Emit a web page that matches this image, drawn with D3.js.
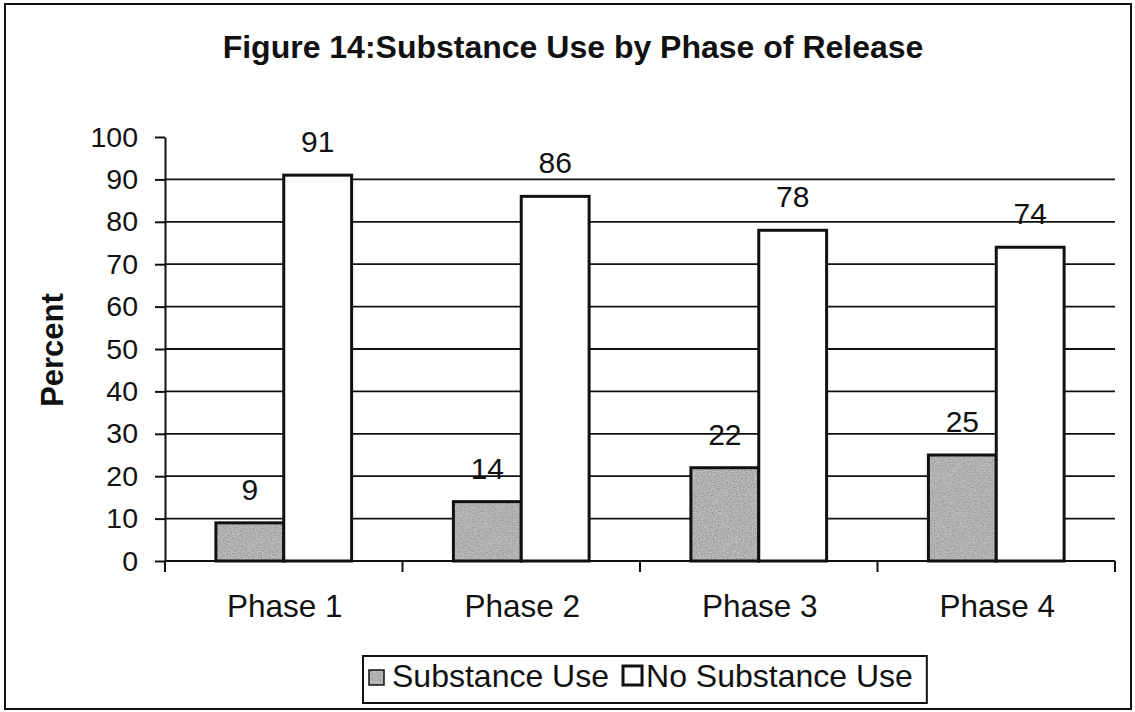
<!DOCTYPE html>
<html>
<head>
<meta charset="utf-8">
<script src="https://cdn.jsdelivr.net/npm/d3@7"></script>
<style>
  html, body { margin: 0; padding: 0; background: #fff; }
  svg { display: block; font-family: "Liberation Sans", Arial, sans-serif; }
</style>
</head>
<body>
<svg id="chart" width="1135" height="712"></svg>
<script>
const phases = ["Phase 1", "Phase 2", "Phase 3", "Phase 4"];
const seriesNames = ["Substance Use", "No Substance Use"];
const substanceUse = [9, 14, 22, 25];
const noSubstanceUse = [91, 86, 78, 74];
const yTicks = [0, 10, 20, 30, 40, 50, 60, 70, 80, 90, 100];
const gridValues = [10, 20, 30, 40, 50, 60, 70, 80, 90];

const svg = d3.select("#chart");
const width = 1135;
const height = 712;

const plot = { left: 165, right: 1115, top: 137, bottom: 561 };

const defs = svg.append("defs");
const grain = defs.append("filter").attr("id", "grain").attr("x", 0).attr("y", 0).attr("width", 1).attr("height", 1);
grain.append("feTurbulence").attr("type", "fractalNoise").attr("baseFrequency", 0.8).attr("numOctaves", 2).attr("seed", 7).attr("result", "n");
grain.append("feColorMatrix").attr("in", "n").attr("type", "matrix")
  .attr("values", "0 0 0 0 0.3  0 0 0 0 0.3  0 0 0 0 0.3  0 0 0 2.6 -1.0").attr("result", "g");
grain.append("feComposite").attr("in", "g").attr("in2", "SourceGraphic").attr("operator", "in");

const pat = defs.append("pattern").attr("id", "stipple").attr("patternUnits", "userSpaceOnUse")
  .attr("width", 120).attr("height", 120);
pat.append("rect").attr("width", 120).attr("height", 120).attr("fill", "#bdbdbd");
pat.append("rect").attr("width", 120).attr("height", 120).attr("fill", "#fff").attr("filter", "url(#grain)");

// background + outer frame
svg.append("rect").attr("width", width).attr("height", height).attr("fill", "#fff");
svg.append("rect").attr("x", 5).attr("y", 4).attr("width", 1126).attr("height", 705)
  .attr("fill", "none").attr("stroke", "#111").attr("stroke-width", 2);

const x0 = d3.scaleBand().domain(phases).range([plot.left, plot.right]).padding(0);
const x1 = d3.scaleBand().domain(seriesNames).range([0, x0.bandwidth()]).paddingInner(0).paddingOuter(0.75);
const y = d3.scaleLinear().domain([0, 100]).range([plot.bottom, plot.top]);

// gridlines
svg.append("g").selectAll("line").data(gridValues).join("line")
  .attr("x1", plot.left).attr("x2", plot.right)
  .attr("y1", (d) => y(d)).attr("y2", (d) => y(d))
  .attr("stroke", "#111").attr("stroke-width", 1.8);

// y axis
const yAxis = svg.append("g").attr("transform", `translate(${plot.left},0)`)
  .call(d3.axisLeft(y).tickValues(yTicks).tickSize(10).tickPadding(17).tickSizeOuter(0));
yAxis.select(".domain").attr("stroke", "#111").attr("stroke-width", 2);
yAxis.selectAll(".tick line").attr("stroke", "#111").attr("stroke-width", 2);
yAxis.selectAll(".tick text").attr("font-size", 28.5).attr("fill", "#111")
  .attr("font-family", "Liberation Sans, Arial, sans-serif");

// bars
const rows = phases.map((p, i) => ({ phase: p, values: [substanceUse[i], noSubstanceUse[i]] }));
const groups = svg.append("g").selectAll("g").data(rows).join("g")
  .attr("transform", (d) => `translate(${x0(d.phase)},0)`);

groups.selectAll("rect").data((d) => d.values.map((v, j) => ({ key: seriesNames[j], v })))
  .join("rect")
  .attr("x", (d) => x1(d.key))
  .attr("y", (d) => y(d.v))
  .attr("width", x1.bandwidth())
  .attr("height", (d) => y(0) - y(d.v))
  .attr("fill", (d) => (d.key === seriesNames[0] ? "url(#stipple)" : "#fff"))
  .attr("stroke", "#111").attr("stroke-width", 3);

groups.selectAll("text.val").data((d) => d.values.map((v, j) => ({ key: seriesNames[j], v })))
  .join("text").attr("class", "val")
  .attr("x", (d) => x1(d.key) + x1.bandwidth() / 2)
  .attr("y", (d) => y(d.v) - 23)
  .attr("text-anchor", "middle").attr("font-size", 30).attr("fill", "#111")
  .text((d) => d.v);

// x axis
const xAxis = svg.append("g").attr("transform", `translate(0,${plot.bottom})`);
xAxis.append("line").attr("x1", plot.left).attr("x2", plot.right)
  .attr("stroke", "#111").attr("stroke-width", 2);
const boundaries = phases.map((p) => x0(p)).concat([plot.right]);
xAxis.selectAll("line.tk").data(boundaries).join("line").attr("class", "tk")
  .attr("x1", (d) => d).attr("x2", (d) => d).attr("y1", 0).attr("y2", 11)
  .attr("stroke", "#111").attr("stroke-width", 2);
xAxis.selectAll("text").data(phases).join("text")
  .attr("x", (d) => x0(d) + x0.bandwidth() / 2 + 1)
  .attr("y", 56)
  .attr("text-anchor", "middle").attr("font-size", 31.5).attr("fill", "#111")
  .text((d) => d);

// title
svg.append("text").attr("x", 573).attr("y", 58).attr("text-anchor", "middle")
  .attr("font-size", 32).attr("font-weight", "bold").attr("fill", "#111")
  .text("Figure 14:Substance Use by Phase of Release");

// y axis title
svg.append("text").attr("transform", "translate(63,350) rotate(-90)")
  .attr("text-anchor", "middle").attr("font-size", 31).attr("font-weight", "bold").attr("fill", "#111")
  .text("Percent");

// legend
const legend = svg.append("g");
const legendBox = legend.append("rect").attr("y", 656).attr("height", 47)
  .attr("fill", "#fff").attr("stroke", "#111").attr("stroke-width", 2);
let lx = 369;
seriesNames.forEach((name, i) => {
  const sw = i === 0 ? 15 : 19;
  legend.append("rect").attr("x", lx).attr("y", 685 - sw).attr("width", sw).attr("height", sw)
    .attr("fill", i === 0 ? "url(#stipple)" : "#fff").attr("stroke", "#111").attr("stroke-width", i === 0 ? 1.5 : 3);
  const tx = lx + sw + (i === 0 ? 8 : 4);
  const t = legend.append("text").attr("x", tx).attr("y", 687).attr("font-size", 32).attr("fill", "#111").text(name);
  lx = tx + t.node().getComputedTextLength() + 14;
});
legendBox.attr("x", 363).attr("width", lx - 363);
</script>
</body>
</html>
